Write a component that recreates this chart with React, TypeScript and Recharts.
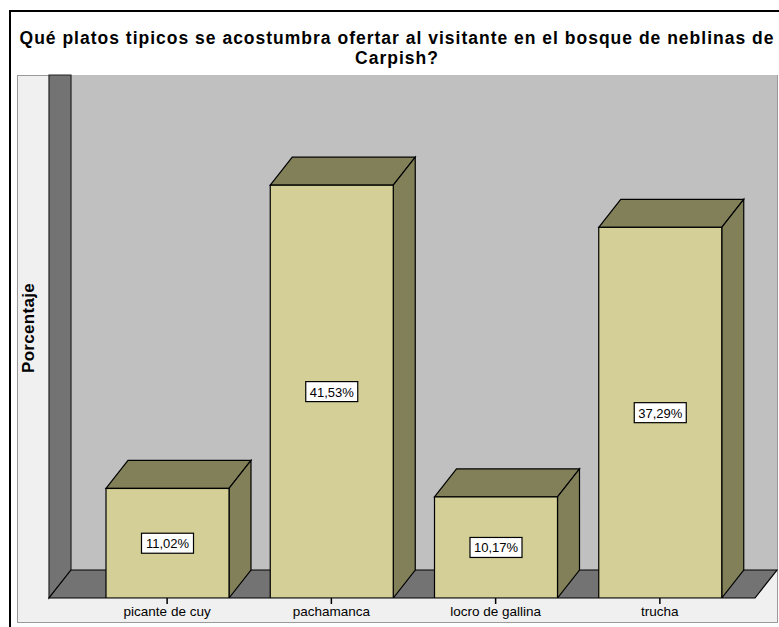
import React from 'react';
import { BarChart, Bar, XAxis, YAxis, ReferenceArea, LabelList } from 'recharts';

const categories = ['picante de cuy', 'pachamanca', 'locro de gallina', 'trucha'];
const percentages = [11.02, 41.53, 10.17, 37.29];
const yDomain: [number, number] = [0, 49.8];
const titleLines = [
  'Qué platos tipicos se acostumbra ofertar al visitante en el bosque de neblinas de',
  'Carpish?',
];
const yLabel = 'Porcentaje';

const data = categories.map((c, i) => ({ name: c, value: percentages[i] }));

const DX = 22;
const DY = 28;
const PAD_L = 36;
const PAD_R = 13;
const FRONT = '#d3cf97';
const SIDE = '#828059';
const FONT = '"Liberation Sans", Arial, sans-serif';

function Box3D(props: any) {
  const { x, y, width, height } = props;
  if (width == null || height == null) return null;
  const xr = x + width;
  const yb = y + height;
  return (
    <g>
      <polygon
        points={`${x},${y} ${x + DX},${y - DY} ${xr + DX},${y - DY} ${xr},${y}`}
        fill={SIDE}
        stroke="#000"
        strokeWidth={1.2}
      />
      <polygon
        points={`${xr},${y} ${xr + DX},${y - DY} ${xr + DX},${yb - DY} ${xr},${yb}`}
        fill={SIDE}
        stroke="#000"
        strokeWidth={1.2}
      />
      <rect x={x} y={y} width={width} height={height} fill={FRONT} stroke="#000" strokeWidth={1.2} />
    </g>
  );
}

function Walls(props: any) {
  const x = props.x - PAD_L;
  const width = props.width + PAD_L + PAD_R;
  const { y, height } = props;
  const xr = x + width;
  const yb = y + height;
  return (
    <g>
      <rect x={x + DX} y={y - DY} width={width} height={height} fill="#c0c0c0" />
      <polygon
        points={`${x},${yb} ${x},${y - DY} ${x + DX},${y - DY} ${x + DX},${yb - DY}`}
        fill="#737373"
        stroke="#222"
        strokeWidth={1.2}
      />
      <polygon
        points={`${x},${yb} ${xr},${yb} ${xr + DX},${yb - DY} ${x + DX},${yb - DY}`}
        fill="#737373"
        stroke="#000"
        strokeWidth={1.2}
      />
    </g>
  );
}

function ValueLabel(props: any) {
  const { x, y, width, height, value } = props;
  const cx = x + width / 2;
  const cy = y + height / 2;
  const txt = `${Number(value).toFixed(2).replace('.', ',')}%`;
  const w = 52;
  const h = 20;
  return (
    <g>
      <rect x={cx - w / 2} y={cy - h / 2} width={w} height={h} fill="#fff" stroke="#000" strokeWidth={1.2} />
      <text
        x={cx}
        y={cy + 5}
        textAnchor="middle"
        fontFamily={FONT}
        fontSize={13}
        fill="#000"
      >
        {txt}
      </text>
    </g>
  );
}

export default function App() {
  return (
    <div
      style={{
        position: 'absolute',
        left: 0,
        top: 0,
        width: 779,
        height: 627,
        overflow: 'hidden',
        background: '#fff',
        fontFamily: FONT,
      }}
    >
      <div
        style={{
          position: 'absolute',
          left: 9,
          top: 10,
          width: 900,
          height: 800,
          borderLeft: '2px solid #000',
          borderTop: '2px solid #000',
        }}
      />
      <div
        style={{
          position: 'absolute',
          left: 12,
          top: 29,
          width: 770,
          textAlign: 'center',
          fontWeight: 'bold',
          fontSize: 17.5,
          letterSpacing: 1.0,
          lineHeight: '19.6px',
          color: '#000',
          whiteSpace: 'nowrap',
        }}
      >
        {titleLines.map((t, i) => (
          <div key={i}>{t}</div>
        ))}
      </div>
      <div
        style={{
          position: 'absolute',
          left: 17,
          top: 75,
          width: 759,
          height: 546,
          background: '#f0f0f0',
          border: '1px solid #9a9a9a',
        }}
      />
      <div
        style={{
          position: 'absolute',
          left: 29,
          top: 328,
          transform: 'translate(-50%, -50%) rotate(-90deg)',
          fontWeight: 'bold',
          fontSize: 17,
          letterSpacing: 0.3,
          color: '#000',
          whiteSpace: 'nowrap',
        }}
      >
        {yLabel}
      </div>
      <div style={{ position: 'absolute', left: 0, top: 0 }}>
        <BarChart
          width={779}
          height={627}
          data={data}
          margin={{ top: 103, right: 24, bottom: 0, left: 49 }}
        >
          <YAxis hide domain={yDomain} type="number" allowDataOverflow />
          <XAxis
            dataKey="name"
            height={29}
            interval={0}
            padding={{ left: PAD_L, right: PAD_R }}
            axisLine={false}
            tickLine={{ stroke: '#000', strokeWidth: 1.5 }}
            tickSize={6}
            tickMargin={2}
            tick={{ fontSize: 13.5, fill: '#000', fontFamily: FONT }}
          />
          <ReferenceArea y1={yDomain[0]} y2={yDomain[1]} shape={<Walls />} ifOverflow="visible" />
          <Bar dataKey="value" barSize={123} shape={<Box3D />} isAnimationActive={false}>
            <LabelList dataKey="value" content={<ValueLabel />} />
          </Bar>
        </BarChart>
      </div>
    </div>
  );
}
